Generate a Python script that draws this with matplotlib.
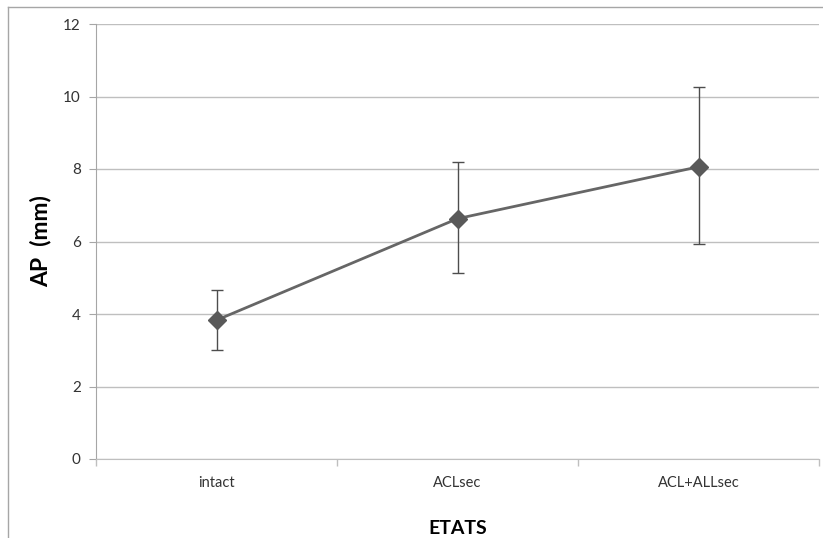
#!/usr/bin/env python3

"""
plot.py
"""

from matplotlib import pyplot as plt
from matplotlib.lines import Line2D

# Data
states = ['intact', 'ACLsec', 'ACL+ALLsec']
means = [3.83, 6.63, 8.06]
upper = [4.65, 8.18, 10.27]
lower = [3.01, 5.12, 5.92]

yerr = [[m - lo for m, lo in zip(means, lower)],
        [hi - m for m, hi in zip(means, upper)]]

plt.rcParams['font.family'] = ['Lato', 'DejaVu Sans']

W, H = 823, 538
fig = plt.figure(figsize=(W / 100, H / 100), dpi=100)
ax = fig.add_axes([96 / W, 1 - 459 / H, (819 - 96) / W, (459 - 24) / H])

# Outer chart border (only left and top visible in the reference)
fig.add_artist(Line2D([8 / W, 8 / W], [0, 1 - 7 / H], transform=fig.transFigure,
                      color='#a6a6a6', lw=1))
fig.add_artist(Line2D([8 / W, 1], [1 - 7 / H, 1 - 7 / H], transform=fig.transFigure,
                      color='#a6a6a6', lw=1))

x = list(range(len(states)))
ax.errorbar(x, means, yerr=yerr, fmt='none', ecolor='#4d4d4d', elinewidth=1,
            capsize=4, capthick=1, zorder=3)
ax.plot(x, means, color='#666666', lw=2, marker='D', markersize=9,
        markerfacecolor='#595959', markeredgecolor='#595959', zorder=4)

ax.set_xlim(-0.5, 2.5)
ax.set_ylim(0, 12)
ax.set_yticks(range(0, 13, 2))
ax.yaxis.grid(True, color='#bfbfbf', lw=1)
ax.set_axisbelow(True)

ax.set_xticks(x)
ax.set_xticklabels(states)
ax.set_xticks([-0.5, 0.5, 1.5, 2.5], minor=True)
ax.tick_params(axis='x', which='major', length=0, pad=12, labelsize=10.5,
               labelcolor='#333333')
ax.tick_params(axis='x', which='minor', length=5, color='#bfbfbf', width=1)
ax.tick_params(axis='y', length=5, color='#a6a6a6', pad=6, labelsize=11,
               labelcolor='#333333')

for side in ('top', 'right'):
    ax.spines[side].set_visible(False)
ax.spines['left'].set_color('#a6a6a6')
ax.spines['bottom'].set_color('#bfbfbf')

ax.set_ylabel('AP  (mm)', fontsize=16.5, fontweight='bold', labelpad=8)
ax.set_xlabel('ETATS', fontsize=14, fontweight='bold', labelpad=22)

fig.savefig('out.png', dpi=100)
